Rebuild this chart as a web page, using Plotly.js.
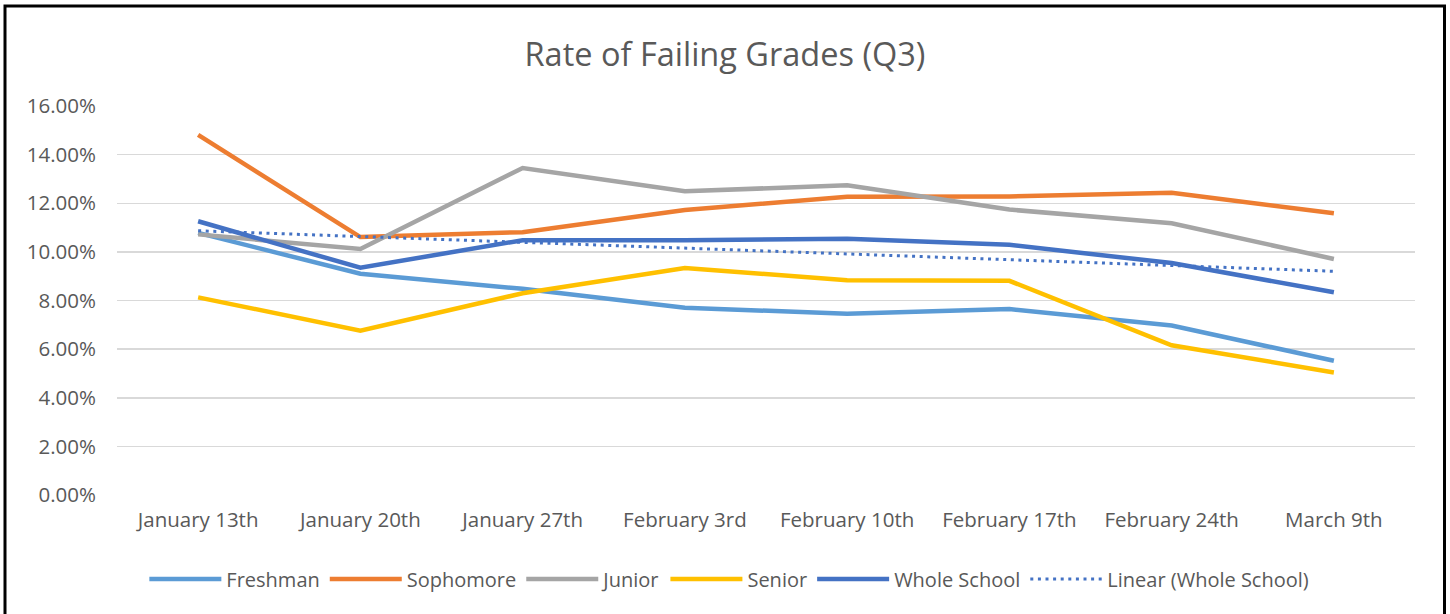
<!DOCTYPE html>
<html>
<head>
<meta charset="utf-8">
<script src="https://cdn.plot.ly/plotly-3.0.1.min.js"></script>
<style>html,body{margin:0;padding:0;background:#fff;}#chart{width:1450px;height:614px;}</style>
</head>
<body>
<div id="chart"></div>
<script>
// ---- data (percent) ----
const categories = ["January 13th","January 20th","January 27th","February 3rd","February 10th","February 17th","February 24th","March 9th"];
const freshman    = [10.78, 9.10, 8.48, 7.70, 7.46, 7.65, 6.97, 5.52];
const sophomore   = [14.81, 10.61, 10.81, 11.72, 12.27, 12.28, 12.43, 11.59];
const junior      = [10.72, 10.12, 13.45, 12.49, 12.74, 11.74, 11.18, 9.71];
const senior      = [8.13, 6.76, 8.30, 9.34, 8.83, 8.81, 6.16, 5.04];
const wholeSchool = [11.26, 9.35, 10.48, 10.48, 10.54, 10.29, 9.54, 8.34];
const yTicks = [0, 2, 4, 6, 8, 10, 12, 14, 16];
const yTickText = ["0.00%", "2.00%", "4.00%", "6.00%", "8.00%", "10.00%", "12.00%", "14.00%", "16.00%"];

// Linear trendline (least squares on Whole School, x = 1..n), as Excel does
function linearTrend(ys) {
  const n = ys.length;
  const xs = ys.map((_, i) => i + 1);
  const mx = xs.reduce((a, b) => a + b, 0) / n;
  const my = ys.reduce((a, b) => a + b, 0) / n;
  let sxy = 0, sxx = 0;
  for (let i = 0; i < n; i++) { sxy += (xs[i] - mx) * (ys[i] - my); sxx += (xs[i] - mx) ** 2; }
  const b = sxy / sxx, a = my - b * mx;
  return xs.map(x => a + b * x);
}
const trend = linearTrend(wholeSchool);

const FONT = "Open Sans, Noto Sans, sans-serif";
const GREY = "#595959";
const LW = 4.5;

function line(name, y, color) {
  return { type: "scatter", mode: "lines", name, x: categories, y,
           line: { color, width: LW }, hoverinfo: "skip" };
}

const traces = [
  line("Freshman", freshman, "#5B9BD5"),
  line("Sophomore", sophomore, "#ED7D31"),
  line("Junior", junior, "#A5A5A5"),
  line("Senior", senior, "#FFC000"),
  line("Whole School", wholeSchool, "#4472C4"),
  { type: "scatter", mode: "lines", name: "Linear (Whole School)", x: categories, y: trend,
    line: { color: "#4472C4", width: 3, dash: "3px,4.6px" }, hoverinfo: "skip" }
];

const M = { l: 117, r: 35, t: 106, b: 119 };
const W = 1450, H = 614;
const pw = W - M.l - M.r, ph = H - M.t - M.b;
const px = v => (v - M.l) / pw;
const py = v => (H - M.b - v) / ph;

const layout = {
  width: W, height: H,
  margin: M,
  paper_bgcolor: "#fff", plot_bgcolor: "#fff",
  font: { family: FONT, color: GREY, size: 20 },
  title: { text: "Rate of Failing Grades (Q3)", font: { family: FONT, size: 32.5, color: GREY },
           x: 0.5, xref: "container", xanchor: "center", y: 1 - 55 / H, yref: "container", yanchor: "middle" },
  xaxis: { type: "category", range: [-0.5, categories.length - 0.5], showgrid: false, zeroline: false,
           showline: false, ticks: "", tickfont: { size: 20.5, color: GREY }, ticklabelstandoff: 10, fixedrange: true },
  yaxis: { range: [0, 16], tickvals: yTicks, ticktext: yTickText,
           showgrid: true, gridcolor: "#D9D9D9", gridwidth: 1.5, zeroline: false, showline: false,
           ticks: "", tickfont: { size: 20.5, color: GREY }, ticklabelstandoff: 20, fixedrange: true },
  legend: { orientation: "h", xref: "container", x: 0.503, xanchor: "center",
            yref: "container", y: 1 - 579 / H, yanchor: "middle",
            font: { size: 20, color: GREY }, itemwidth: 72, traceorder: "normal" },
  shapes: [{ type: "rect", xref: "paper", yref: "paper",
             x0: px(5), x1: px(1444.5), y0: py(6), y1: py(640),
             line: { color: "#000", width: 3 }, fillcolor: "rgba(0,0,0,0)", layer: "above" }],
  hovermode: false, showlegend: true
};

Plotly.newPlot("chart", traces, layout, { staticPlot: true, displayModeBar: false });
</script>
</body>
</html>
